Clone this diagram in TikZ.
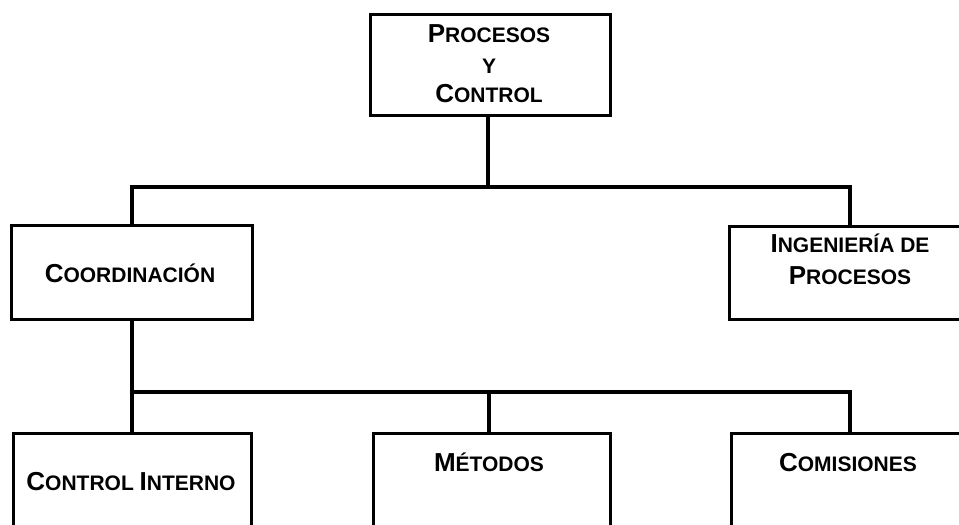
\documentclass[tikz,border=0pt]{standalone}
\usepackage{fontspec}
\setmainfont{Liberation Sans}
% faked small caps: a large capital followed by smaller capitals
\newcommand\capbig[1]{{\fontsize{26}{30}\selectfont #1}}
\newcommand\capsmall[1]{{\fontsize{21}{30}\selectfont #1}}
\begin{document}
\begin{tikzpicture}[x=1pt,y=-1pt,
  unitbox/.style={draw=black,line width=3.2pt,fill=white,inner sep=0pt,
    rectangle,anchor=north west},
  caption/.style={anchor=base,inner sep=0pt,font=\bfseries,text=black},
  link/.style={draw=black,line width=3.2pt}]
\useasboundingbox (0,0) rectangle (959,525);
\clip (0,0) rectangle (959,525);

% boxes (the lower and right ones run past the sheet edge)
\node[unitbox,minimum width=240pt,minimum height=101pt] (top) at (369,13) {};
\node[unitbox,minimum width=241pt,minimum height=94pt] (coord) at (10,224) {};
\node[unitbox,minimum width=300pt,minimum height=93pt] (ing) at (728,225) {};
\node[unitbox,minimum width=238pt,minimum height=140pt] (ctrl) at (12,432) {};
\node[unitbox,minimum width=237pt,minimum height=140pt] (met) at (372,432) {};
\node[unitbox,minimum width=300pt,minimum height=140pt] (com) at (730,432) {};

% branch points
\coordinate (j1) at (488,187);
\coordinate (j2) at (132,392);

% connectors
\draw[link] (top.south -| j1) -- (j1);
\draw[link] (coord.north -| j2) |- (j1) -| (ing.north -| 850,0);
\draw[link] (coord.south -| j2) -- (ctrl.north -| j2);
\draw[link] (j2) -| (met.north -| 489,0);
\draw[link] (j2) -| (com.north -| 850,0);

% labels
\node[caption] (t1) at (489,42) {\capbig{P}\capsmall{ROCESOS}};
\node[caption] (t2) at (489,73) {\capsmall{Y}};
\node[caption] (t3) at (489,102) {\capbig{C}\capsmall{ONTROL}};
\node[caption] (t4) at (130,282) {\capbig{C}\capsmall{OORDINACIÓN}};
\node[caption] (t5) at (850,252) {\capbig{I}\capsmall{NGENIERÍA DE}};
\node[caption] (t6) at (850,284) {\capbig{P}\capsmall{ROCESOS}};
\node[caption] (t7) at (131,490) {\capbig{C}\capsmall{ONTROL }\capbig{I}\capsmall{NTERNO}};
\node[caption] (t8) at (489,471) {\capbig{M}\capsmall{ÉTODOS}};
\node[caption] (t9) at (848,471) {\capbig{C}\capsmall{OMISIONES}};
\end{tikzpicture}
\end{document}
